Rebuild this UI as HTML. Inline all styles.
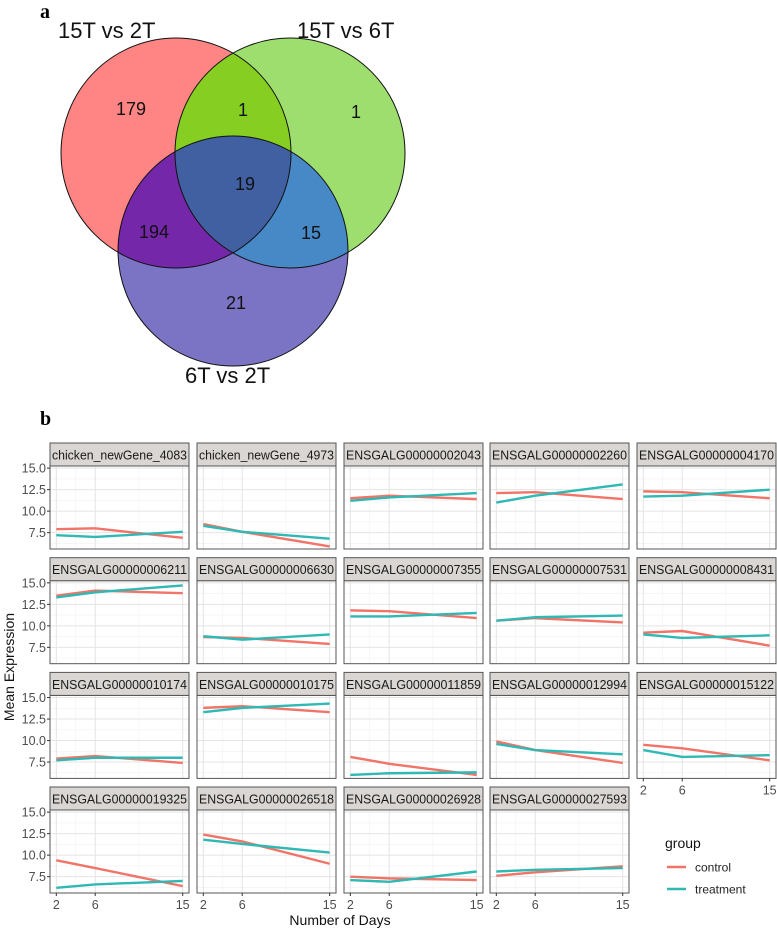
<!DOCTYPE html>
<html><head><meta charset="utf-8"><style>
body{margin:0;background:#fff;}
svg{display:block;font-family:"Liberation Sans",sans-serif;}
</style></head><body>
<svg id="fig" width="777" height="931" viewBox="0 0 777 931" xmlns="http://www.w3.org/2000/svg">
<defs>
<clipPath id="cR"><circle cx="176" cy="153" r="115"/></clipPath>
<clipPath id="cG"><circle cx="290" cy="153" r="115"/></clipPath>
</defs>
<g>
<text x="40" y="18" font-family="Liberation Serif" font-weight="bold" font-size="20">a</text>
<circle cx="176" cy="153" r="115" fill="#ff8585"/>
<circle cx="290" cy="153" r="115" fill="#9ede6e"/>
<circle cx="233" cy="251" r="115" fill="#7b74c4"/>
<circle cx="290" cy="153" r="115" fill="#86cf22" clip-path="url(#cR)"/>
<circle cx="233" cy="251" r="115" fill="#7427a8" clip-path="url(#cR)"/>
<circle cx="233" cy="251" r="115" fill="#4788c6" clip-path="url(#cG)"/>
<g clip-path="url(#cR)"><circle cx="233" cy="251" r="115" fill="#4060a2" clip-path="url(#cG)"/></g>
<circle cx="176" cy="153" r="115" fill="none" stroke="#111" stroke-width="1"/>
<circle cx="290" cy="153" r="115" fill="none" stroke="#111" stroke-width="1"/>
<circle cx="233" cy="251" r="115" fill="none" stroke="#111" stroke-width="1"/>
<g font-size="22" fill="#111">
<text x="58" y="38">15T vs 2T</text>
<text x="297" y="38">15T vs 6T</text>
<text x="185" y="383">6T vs 2T</text>
</g>
<g font-size="18" fill="#111" text-anchor="middle">
<text x="131" y="115">179</text>
<text x="243" y="116">1</text>
<text x="356" y="118">1</text>
<text x="245" y="190">19</text>
<text x="154" y="238">194</text>
<text x="311" y="239">15</text>
<text x="236" y="309">21</text>
</g>
</g>
<text x="40" y="425" font-family="Liberation Serif" font-weight="bold" font-size="20">b</text>
<g id="facets"></g>
</svg>
<script>
const days = [2, 6, 15];
const genes = ["chicken_newGene_4083","chicken_newGene_4973","ENSGALG00000002043","ENSGALG00000002260","ENSGALG00000004170","ENSGALG00000006211","ENSGALG00000006630","ENSGALG00000007355","ENSGALG00000007531","ENSGALG00000008431","ENSGALG00000010174","ENSGALG00000010175","ENSGALG00000011859","ENSGALG00000012994","ENSGALG00000015122","ENSGALG00000019325","ENSGALG00000026518","ENSGALG00000026928","ENSGALG00000027593"];
const controlValues = [[7.9,8.0,6.9],[8.5,7.6,5.9],[11.5,11.8,11.4],[12.1,12.2,11.4],[12.3,12.2,11.5],[13.5,14.1,13.8],[8.7,8.6,7.9],[11.8,11.7,10.9],[10.6,10.9,10.4],[9.2,9.4,7.7],[7.9,8.2,7.4],[13.8,14.0,13.3],[8.1,7.3,6.0],[9.9,8.9,7.4],[9.5,9.1,7.7],[9.4,8.5,6.4],[12.4,11.6,9.0],[7.5,7.3,7.1],[7.6,8.0,8.7]];
const treatmentValues = [[7.2,7.0,7.6],[8.3,7.6,6.8],[11.2,11.6,12.1],[11.0,11.8,13.1],[11.7,11.8,12.5],[13.3,13.9,14.7],[8.8,8.4,9.0],[11.1,11.1,11.5],[10.6,11.0,11.2],[9.0,8.6,8.9],[7.7,8.0,8.0],[13.3,13.8,14.3],[6.0,6.2,6.3],[9.6,8.9,8.4],[8.9,8.1,8.3],[6.2,6.6,7.0],[11.8,11.3,10.3],[7.1,6.9,8.1],[8.1,8.3,8.5]];
const yTicks = [7.5, 10.0, 12.5, 15.0];
const xTicks = [2, 6, 15];

const NS = "http://www.w3.org/2000/svg";
const root = document.getElementById("facets");
const colX = [50, 197, 344, 490, 637], pw = 139;
const rowTop = [443, 557.7, 672.4, 787], stripH = 23, ph = 83;
const xDom = [1.35, 15.65], yDom = [5.6, 15.25];
const CC = "#f07468", TC = "#2fb8b4";
function mk(tag, attrs, parent){const e=document.createElementNS(NS,tag);for(const k in attrs)e.setAttribute(k,attrs[k]);parent.appendChild(e);return e;}
function xs(v,x0){return x0+(v-xDom[0])/(xDom[1]-xDom[0])*pw;}
function ys(v,y0){return y0+ph-(v-yDom[0])/(yDom[1]-yDom[0])*ph;}

genes.forEach((g,i)=>{
  const r=Math.floor(i/5), c=i%5, x0=colX[c], st=rowTop[r], y0=st+stripH;
  const grp=mk("g",{},root);
  
  
  const bg=mk("rect",{x:x0,y:y0,width:pw,height:ph,fill:"#fff"},grp);
  
  
  for(let k=0;k<yTicks.length;k++){
    const mv=yTicks[k]-1.25;
    if(mv>yDom[0]){const m=mk("line",{x1:x0,x2:x0+pw,y1:ys(mv,y0),y2:ys(mv,y0),stroke:"#f2f2f2","stroke-width":0.6},grp);
      
      }
  }
  [4,10.5].forEach(mv=>{const m=mk("line",{x1:xs(mv,x0),x2:xs(mv,x0),y1:y0,y2:y0+ph,stroke:"#f2f2f2","stroke-width":0.6},grp);
      
      });
  yTicks.forEach(t=>{const l=mk("line",{x1:x0,x2:x0+pw,y1:ys(t,y0),y2:ys(t,y0),stroke:"#e4e4e4","stroke-width":1},grp);
    
    });
  xTicks.forEach(t=>{const l=mk("line",{x1:xs(t,x0),x2:xs(t,x0),y1:y0,y2:y0+ph,stroke:"#e4e4e4","stroke-width":1},grp);
    
    });
  [[controlValues[i],CC,'control-line'],[treatmentValues[i],TC,'treatment-line']].forEach(([vals,col,nm])=>{
    const p=mk("polyline",{points:vals.map((v,j)=>xs(days[j],x0)+","+ys(v,y0)).join(" "),fill:"none",stroke:col,"stroke-width":2.4},grp);
    
    
  });
  const bd=mk("rect",{x:x0,y:y0,width:pw,height:ph,fill:"none",stroke:"#555","stroke-width":1},grp);
  
  
  const sr=mk("rect",{x:x0,y:st,width:pw,height:stripH,fill:"#d9d6d3",stroke:"#555","stroke-width":1},grp);
  
  
  const stx=mk("text",{x:x0+pw/2,y:st+16.5,"text-anchor":"middle","font-size":12.5,fill:"#1a1a1a",textLength:pw-4,lengthAdjust:"spacingAndGlyphs"},grp);
  stx.textContent=g;
  
  
  if(c===0){yTicks.forEach(t=>{
    const tl=mk("line",{x1:x0-3,x2:x0,y1:ys(t,y0),y2:ys(t,y0),stroke:"#333"},grp);
    
    
    const tx=mk("text",{x:x0-4,y:ys(t,y0)+4.5,"text-anchor":"end","font-size":12.5,fill:"#4d4d4d"},grp);
    tx.textContent=t.toFixed(1);
    
    
  });}
  const last = (i+5>=genes.length);
  if(last){xTicks.forEach(t=>{
    const tl=mk("line",{x1:xs(t,x0),x2:xs(t,x0),y1:y0+ph,y2:y0+ph+3,stroke:"#333"},grp);
    
    
    const tx=mk("text",{x:xs(t,x0),y:y0+ph+16,"text-anchor":"middle","font-size":12.5,fill:"#4d4d4d"},grp);
    tx.textContent=t;
    
    
  });}
});
const xt=mk("text",{x:340,y:925,"text-anchor":"middle","font-size":14,fill:"#111"},root);
xt.textContent="Number of Days";


const yt=mk("text",{x:0,y:0,"text-anchor":"middle","font-size":14,fill:"#111",transform:"translate(14,667) rotate(-90)"},root);
yt.textContent="Mean Expression";


const lg=mk("g",{},root);


const lt=mk("text",{x:665,y:848,"font-size":14,fill:"#111"},lg);
lt.textContent="group";


[["control",CC,867],["treatment",TC,889]].forEach(([n,col,y])=>{
  const e=mk("g",{},lg);
  
  
  mk("line",{x1:667,x2:686,y1:y,y2:y,stroke:col,"stroke-width":2.4},e);
  const t=mk("text",{x:695,y:y+4.5,"font-size":12,fill:"#222"},e);
  t.textContent=n;
});
</script>
</body></html>
